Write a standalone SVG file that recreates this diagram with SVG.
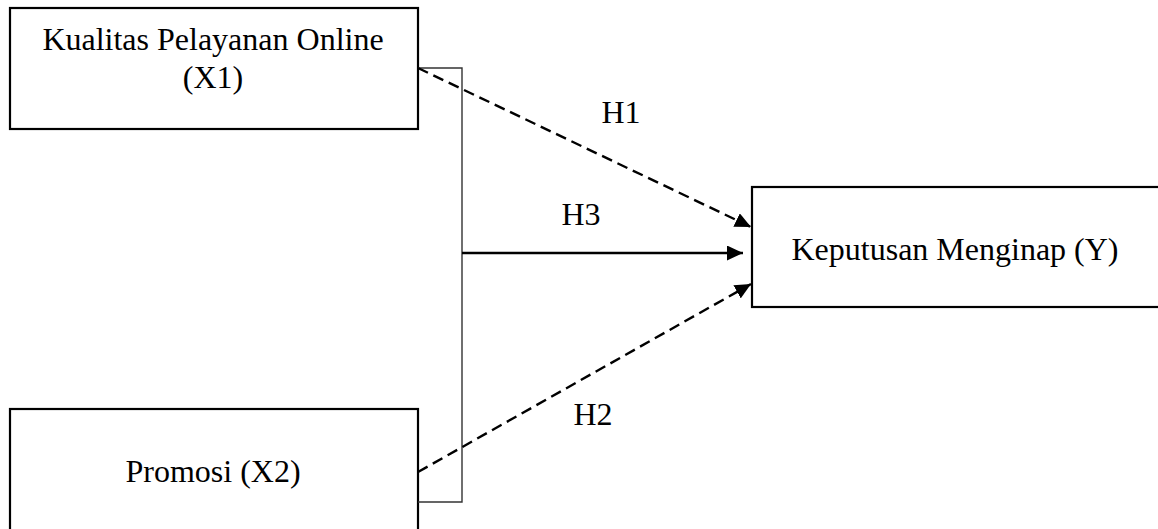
<svg xmlns="http://www.w3.org/2000/svg" width="1158" height="529" viewBox="0 0 1158 529">
  <style>
    .box { fill: #ffffff; stroke: #000000; stroke-width: 2.2; }
    .lbl { font-family: "Liberation Serif", "Times New Roman", serif; font-size: 32px; fill: #000000; text-anchor: middle; }
    .bracket { fill: none; stroke: #333333; stroke-width: 1.4; }
    .dash { fill: none; stroke: #000000; stroke-width: 2.4; stroke-dasharray: 11 6; }
    .solid { fill: none; stroke: #000000; stroke-width: 2.4; }
  </style>
  <defs>
    <marker id="arrow" markerUnits="userSpaceOnUse" markerWidth="17" markerHeight="15" refX="16" refY="7.5" orient="auto">
      <path d="M0,0 L16,7.5 L0,15 Z" fill="#000000" stroke="none"/>
    </marker>
  </defs>
  <rect width="1158" height="529" fill="#ffffff"/>

  <g id="node-x1">
    <rect class="box" x="10" y="8" width="408" height="121"/>
    <text class="lbl" x="213" y="50">Kualitas Pelayanan Online</text>
    <text class="lbl" x="213" y="88">(X1)</text>
  </g>

  <g id="node-x2">
    <rect class="box" x="10" y="409" width="408" height="140"/>
    <text class="lbl" x="213" y="482">Promosi (X2)</text>
  </g>

  <g id="node-y">
    <rect class="box" x="752" y="187" width="430" height="120"/>
    <text class="lbl" x="955" y="260">Keputusan Menginap (Y)</text>
  </g>

  <g id="connectors">
    <path class="bracket" d="M418,68 H462 V502 H418"/>
    <line class="dash" x1="418" y1="68" x2="751" y2="227" marker-end="url(#arrow)"/>
    <line class="dash" x1="418" y1="472" x2="751" y2="284" marker-end="url(#arrow)"/>
    <line class="solid" x1="462" y1="253" x2="743" y2="253" marker-end="url(#arrow)"/>
    <text class="lbl" x="621" y="123">H1</text>
    <text class="lbl" x="581" y="225">H3</text>
    <text class="lbl" x="593" y="425">H2</text>
  </g>
</svg>
